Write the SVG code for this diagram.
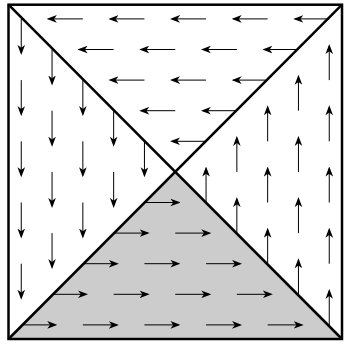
<svg xmlns="http://www.w3.org/2000/svg" width="344" height="346" viewBox="0 0 344 346">
<style>
.a{stroke:#000;stroke-width:1;fill:none;marker-end:url(#ah)}
.f{stroke:#000;stroke-width:2.5;fill:none;stroke-linejoin:miter}
</style>
<defs>
<marker id="ah" markerUnits="userSpaceOnUse" markerWidth="10" markerHeight="8" refX="8" refY="4" orient="auto" viewBox="0 0 10 8">
<path d="M0,0.2 L10,4 L0,7.8 L2.8,4 z" fill="#000"/>
</marker>
</defs>
<rect width="344" height="346" fill="#fff"/>
<polygon id="shade" points="8.5,339 175.25,171.85 342,339" fill="#cccccc"/>
<g id="top-arrows">
<line class="a" x1="82.85" y1="18.9" x2="48.85" y2="18.9"/>
<line class="a" x1="144.45" y1="18.9" x2="110.45" y2="18.9"/>
<line class="a" x1="206.05" y1="18.9" x2="172.05" y2="18.9"/>
<line class="a" x1="267.65" y1="18.9" x2="233.65" y2="18.9"/>
<line class="a" x1="329.25" y1="18.9" x2="295.25" y2="18.9"/>
<line class="a" x1="113.65" y1="49.5" x2="79.65" y2="49.5"/>
<line class="a" x1="175.25" y1="49.5" x2="141.25" y2="49.5"/>
<line class="a" x1="236.85" y1="49.5" x2="202.85" y2="49.5"/>
<line class="a" x1="298.45" y1="49.5" x2="264.45" y2="49.5"/>
<line class="a" x1="144.45" y1="80.1" x2="110.45" y2="80.1"/>
<line class="a" x1="206.05" y1="80.1" x2="172.05" y2="80.1"/>
<line class="a" x1="267.65" y1="80.1" x2="233.65" y2="80.1"/>
<line class="a" x1="175.25" y1="110.7" x2="141.25" y2="110.7"/>
<line class="a" x1="236.85" y1="110.7" x2="202.85" y2="110.7"/>
<line class="a" x1="206.05" y1="141.3" x2="172.05" y2="141.3"/>
</g>
<g id="left-arrows">
<line class="a" x1="21.25" y1="18.9" x2="21.25" y2="52.9"/>
<line class="a" x1="21.25" y1="80.1" x2="21.25" y2="114.1"/>
<line class="a" x1="21.25" y1="141.3" x2="21.25" y2="175.3"/>
<line class="a" x1="21.25" y1="202.5" x2="21.25" y2="236.5"/>
<line class="a" x1="21.25" y1="263.7" x2="21.25" y2="297.7"/>
<line class="a" x1="52.05" y1="49.5" x2="52.05" y2="83.5"/>
<line class="a" x1="52.05" y1="110.7" x2="52.05" y2="144.7"/>
<line class="a" x1="52.05" y1="171.9" x2="52.05" y2="205.9"/>
<line class="a" x1="52.05" y1="233.1" x2="52.05" y2="267.1"/>
<line class="a" x1="82.85" y1="80.1" x2="82.85" y2="114.1"/>
<line class="a" x1="82.85" y1="141.3" x2="82.85" y2="175.3"/>
<line class="a" x1="82.85" y1="202.5" x2="82.85" y2="236.5"/>
<line class="a" x1="113.65" y1="110.7" x2="113.65" y2="144.7"/>
<line class="a" x1="113.65" y1="171.9" x2="113.65" y2="205.9"/>
<line class="a" x1="144.45" y1="141.3" x2="144.45" y2="175.3"/>
</g>
<g id="bottom-arrows">
<line class="a" x1="21.25" y1="324.9" x2="55.25" y2="324.9"/>
<line class="a" x1="82.85" y1="324.9" x2="116.85" y2="324.9"/>
<line class="a" x1="144.45" y1="324.9" x2="178.45" y2="324.9"/>
<line class="a" x1="206.05" y1="324.9" x2="240.05" y2="324.9"/>
<line class="a" x1="267.65" y1="324.9" x2="301.65" y2="324.9"/>
<line class="a" x1="52.05" y1="294.3" x2="86.05" y2="294.3"/>
<line class="a" x1="113.65" y1="294.3" x2="147.65" y2="294.3"/>
<line class="a" x1="175.25" y1="294.3" x2="209.25" y2="294.3"/>
<line class="a" x1="236.85" y1="294.3" x2="270.85" y2="294.3"/>
<line class="a" x1="82.85" y1="263.7" x2="116.85" y2="263.7"/>
<line class="a" x1="144.45" y1="263.7" x2="178.45" y2="263.7"/>
<line class="a" x1="206.05" y1="263.7" x2="240.05" y2="263.7"/>
<line class="a" x1="113.65" y1="233.1" x2="147.65" y2="233.1"/>
<line class="a" x1="175.25" y1="233.1" x2="209.25" y2="233.1"/>
<line class="a" x1="144.45" y1="202.5" x2="178.45" y2="202.5"/>
</g>
<g id="right-arrows">
<line class="a" x1="329.25" y1="80.1" x2="329.25" y2="46.1"/>
<line class="a" x1="329.25" y1="141.3" x2="329.25" y2="107.3"/>
<line class="a" x1="329.25" y1="202.5" x2="329.25" y2="168.5"/>
<line class="a" x1="329.25" y1="263.7" x2="329.25" y2="229.7"/>
<line class="a" x1="329.25" y1="324.9" x2="329.25" y2="290.9"/>
<line class="a" x1="298.45" y1="110.7" x2="298.45" y2="76.7"/>
<line class="a" x1="298.45" y1="171.9" x2="298.45" y2="137.9"/>
<line class="a" x1="298.45" y1="233.1" x2="298.45" y2="199.1"/>
<line class="a" x1="298.45" y1="294.3" x2="298.45" y2="260.3"/>
<line class="a" x1="267.65" y1="141.3" x2="267.65" y2="107.3"/>
<line class="a" x1="267.65" y1="202.5" x2="267.65" y2="168.5"/>
<line class="a" x1="267.65" y1="263.7" x2="267.65" y2="229.7"/>
<line class="a" x1="236.85" y1="171.9" x2="236.85" y2="137.9"/>
<line class="a" x1="236.85" y1="233.1" x2="236.85" y2="199.1"/>
<line class="a" x1="206.05" y1="202.5" x2="206.05" y2="168.5"/>
</g>
<g id="frame">
<rect class="f" x="8.5" y="4.7" width="333.5" height="334.3"/>
<line class="f" x1="8.5" y1="4.7" x2="342" y2="339"/>
<line class="f" x1="342" y1="4.7" x2="8.5" y2="339"/>
</g>
</svg>
